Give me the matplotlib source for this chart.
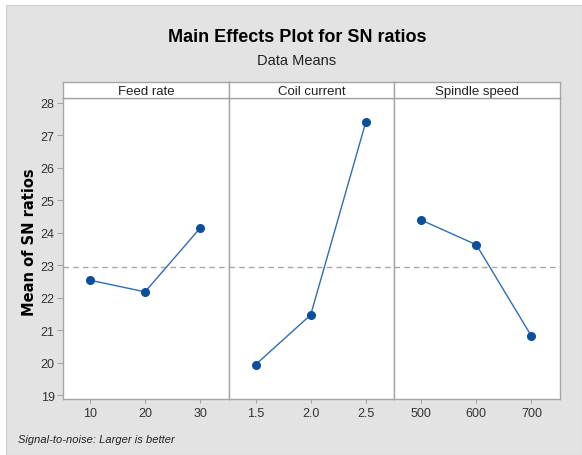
import matplotlib
matplotlib.use('Agg')
import matplotlib.pyplot as plt
from matplotlib.patches import Rectangle
import numpy as np

# === data ===
factors = ['Feed rate', 'Coil current', 'Spindle speed']
levels = [['10', '20', '30'], ['1.5', '2.0', '2.5'], ['500', '600', '700']]
sn_means = [[22.54, 22.18, 24.14],
            [19.94, 21.47, 27.40],
            [24.39, 23.63, 20.82]]
y_ticks = [19, 20, 21, 22, 23, 24, 25, 26, 27, 28]

plt.rcParams['font.family'] = ['Liberation Sans', 'DejaVu Sans']

W, H = 582, 456
fig = plt.figure(figsize=(W / 100, H / 100), dpi=100, facecolor='white')

# gray background panel
fig.patches.append(Rectangle((6 / W, 0), 1 - 6 / W, (H - 6) / H, transform=fig.transFigure,
                             facecolor='#e3e3e3', edgecolor='#d0d0d0', lw=0.8, zorder=-10))

grand_mean = np.mean(sn_means[0])
edge = '#a6a6a6'
line_c = '#2f6db5'
mark_c = '#0a4f9e'

left, right = 63, 560
top_strip, bot_strip, bottom = 83, 99, 400
pw = (right - left) / 3

for i, name in enumerate(factors):
    x0 = (left + i * pw) / W
    ax = fig.add_axes([x0, (H - bottom) / H, pw / W, (bottom - bot_strip) / H])
    ax.set_facecolor('white')
    x = np.arange(len(levels[i]))
    ax.plot(x, sn_means[i], color=line_c, lw=1.0, zorder=3)
    ax.plot(x, sn_means[i], 'o', color=mark_c, ms=5.5, zorder=4)
    ax.axhline(grand_mean, color='#a8a8a8', ls=(0, (4, 3)), lw=1.0, zorder=2)
    ax.set_xlim(-0.49, 2.52)
    ax.set_ylim(18.88, 28.15)
    ax.set_xticks(x)
    ax.set_xticklabels(levels[i], fontsize=9, color='#333333')
    ax.tick_params(axis='x', length=3, color=edge, pad=3)
    if i == 0:
        ax.set_yticks(y_ticks)
        ax.tick_params(axis='y', length=4, color=edge, labelsize=9, labelcolor='#333333', pad=2)
    else:
        ax.set_yticks([])
    for s in ax.spines.values():
        s.set_color(edge)
        s.set_linewidth(1.0)

    # strip header
    sax = fig.add_axes([x0, (H - bot_strip) / H, pw / W, (bot_strip - top_strip) / H])
    sax.set_facecolor('white')
    sax.set_xticks([])
    sax.set_yticks([])
    for s in sax.spines.values():
        s.set_color(edge)
        s.set_linewidth(1.0)
    sax.text(0.5, 0.45, name, ha='center', va='center', fontsize=9.5, color='#222222',
             transform=sax.transAxes)

fig.text(297 / W, 1 - 37 / H, 'Main Effects Plot for SN ratios', ha='center', va='center',
         fontsize=13, fontweight='bold', color='black')
fig.text(297 / W, 1 - 61 / H, 'Data Means', ha='center', va='center', fontsize=10.5, color='#222222')
fig.text(30 / W, 1 - 242 / H, 'Mean of SN ratios', ha='center', va='center', rotation=90,
         fontsize=10.5, fontweight='bold', family=['DejaVu Sans'], color='black')
fig.text(18 / W, 1 - 440 / H, 'Signal-to-noise: Larger is better', ha='left', va='center',
         fontsize=8, style='italic', color='#222222')

fig.savefig('out.png', dpi=100, facecolor=fig.get_facecolor())
